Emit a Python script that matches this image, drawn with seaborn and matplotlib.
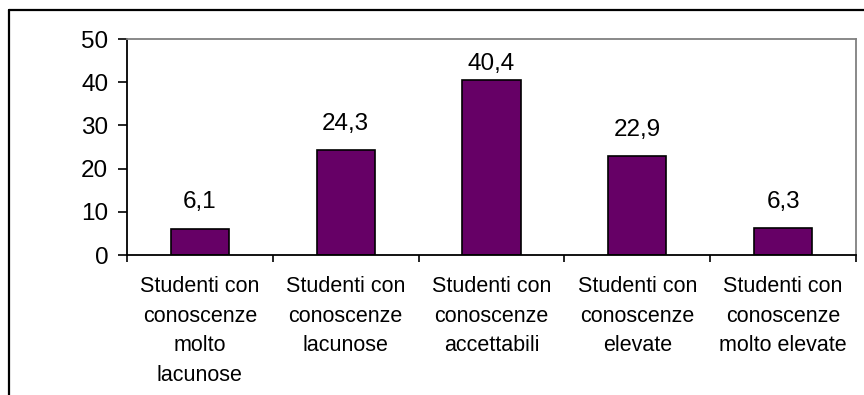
import matplotlib
matplotlib.use("Agg")
import matplotlib.pyplot as plt
from matplotlib.lines import Line2D
import seaborn as sns
import pandas as pd

categories = [
    "Studenti con\nconoscenze\nmolto\nlacunose",
    "Studenti con\nconoscenze\nlacunose",
    "Studenti con\nconoscenze\naccettabili",
    "Studenti con\nconoscenze\nelevate",
    "Studenti con\nconoscenze\nmolto elevate",
]
values = [6.1, 24.3, 40.4, 22.9, 6.3]
y_ticks = [0, 10, 20, 30, 40, 50]

df = pd.DataFrame({"categoria": categories, "percentuale": values})

sns.set_theme(style="white")
plt.rcParams["font.family"] = ["Liberation Sans", "DejaVu Sans"]
plt.rcParams["text.color"] = "black"
plt.rcParams["xtick.color"] = "black"
plt.rcParams["ytick.color"] = "black"

fig = plt.figure(figsize=(8.64, 3.95), dpi=100)
ax = fig.add_axes([127 / 864, 1 - 255 / 395, (856 - 127) / 864, (255 - 39) / 395])

sns.barplot(data=df, x="categoria", y="percentuale", color="#660066",
            edgecolor="black", linewidth=1.2, width=0.4, saturation=1, ax=ax)

ax.set_ylim(0, 50)
ax.set_xlim(-0.5, len(categories) - 0.5)
ax.set_yticks(y_ticks)
ax.set_yticklabels([str(t) for t in y_ticks], fontsize=17.5, color="black")
ax.set_xlabel("")
ax.set_ylabel("")

# category labels centred under each bar, ticks at the category boundaries
ax.set_xticks(range(len(categories)))
ax.set_xticklabels(categories, fontsize=15.5, linespacing=1.55, color="black")
ax.tick_params(axis="x", which="major", length=0, pad=15)
ax.set_xticks([i - 0.5 for i in range(len(categories) + 1)], minor=True)
ax.tick_params(axis="x", which="minor", direction="out", length=5,
               width=1.2, color="black", bottom=True)
ax.tick_params(axis="y", direction="out", length=6.5, width=1.2,
               color="black", left=True, pad=7)

for side in ("left", "bottom"):
    ax.spines[side].set_color("black")
    ax.spines[side].set_linewidth(1.3)
for side in ("top", "right"):
    ax.spines[side].set_color("#808080")
    ax.spines[side].set_linewidth(1.3)

# value labels (comma decimals); the tallest one sits closer to its bar
# so that it stays inside the plot frame
labels = [f"{v:.1f}".replace(".", ",") for v in values]
tallest = values.index(max(values))
near = [lab if i == tallest else "" for i, lab in enumerate(labels)]
far = ["" if i == tallest else lab for i, lab in enumerate(labels)]
ax.bar_label(ax.containers[0], labels=far, padding=11, fontsize=17.5,
             color="black")
ax.bar_label(ax.containers[0], labels=near, padding=4, fontsize=17.5,
             color="black")

# outer chart frame
fig.add_artist(Line2D([8.5 / 864, 1.0], [1 - 9.5 / 395] * 2,
                      transform=fig.transFigure, color="black", linewidth=1.6))
fig.add_artist(Line2D([8.5 / 864] * 2, [0, 1 - 9.5 / 395],
                      transform=fig.transFigure, color="black", linewidth=1.6))

fig.savefig("out.png", dpi=100)
